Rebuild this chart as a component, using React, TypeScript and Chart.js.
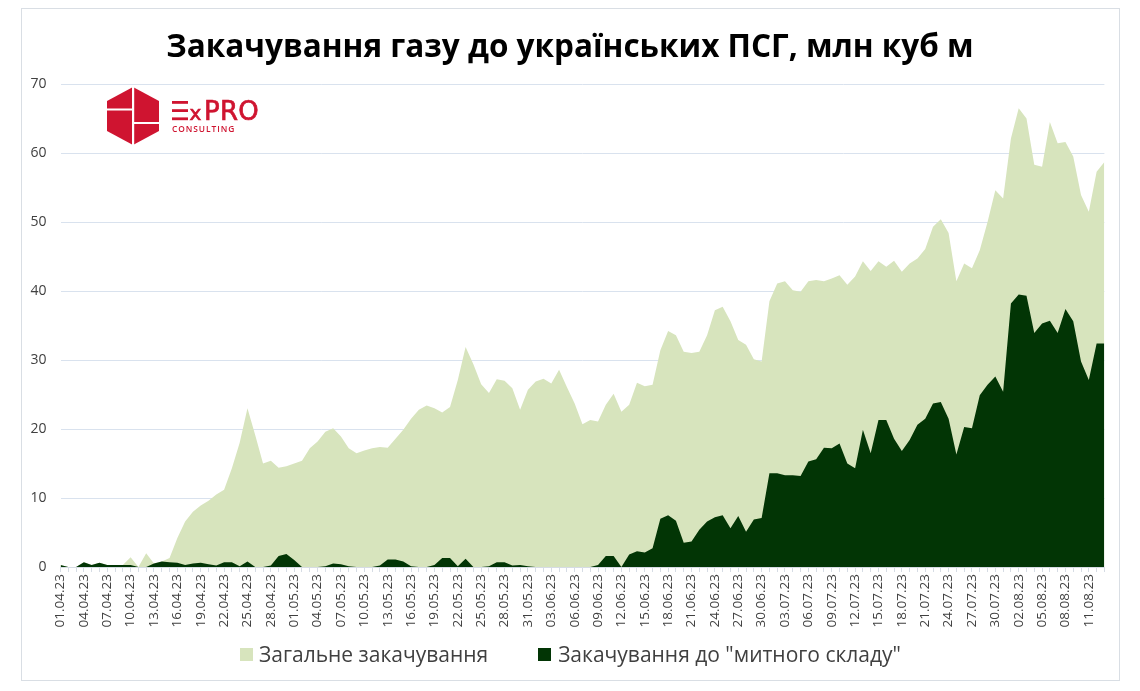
import { useEffect, useRef } from "react";
import { Chart, registerables } from "chart.js";

Chart.register(...registerables);

// first day of the series, one value per day
const START_DAY = { year: 2023, month: 4, day: 1 };

// total injection into Ukrainian UGS, mcm/day
const totalInjection = [
  0.3, 0, 0, 0.7, 0.3, 0.6, 0.3, 0.3, 0.3, 1.4,
  0, 2.0, 0.5, 0.8, 1.3, 4.2, 6.6, 8.0, 8.9, 9.6,
  10.5, 11.2, 14.3, 18.0, 23.0, 19.1, 15.0, 15.4, 14.4, 14.6,
  15.0, 15.4, 17.2, 18.2, 19.6, 20.1, 18.9, 17.2, 16.5, 16.9,
  17.2, 17.4, 17.3, 18.6, 19.9, 21.5, 22.8, 23.4, 23.0, 22.4,
  23.2, 27.1, 31.9, 29.4, 26.5, 25.2, 27.2, 27.0, 25.9, 22.8,
  25.7, 26.9, 27.3, 26.6, 28.6, 26.1, 23.7, 20.7, 21.3, 21.1,
  23.5, 25.1, 22.5, 23.5, 26.7, 26.2, 26.4, 31.4, 34.2, 33.6,
  31.2, 31.0, 31.2, 33.6, 37.2, 37.7, 35.6, 32.9, 32.2, 30.1,
  29.8, 38.5, 41.1, 41.4, 40.1, 39.9, 41.4, 41.6, 41.4, 41.8,
  42.3, 40.9, 42.1, 44.3, 42.9, 44.3, 43.5, 44.4, 42.8, 44.0,
  44.7, 46.1, 49.3, 50.4, 48.4, 41.4, 44.0, 43.3, 45.9, 50.0,
  54.6, 53.4, 62.1, 66.5, 65.0, 58.3, 58.0, 64.5, 61.4, 61.6,
  59.5, 53.9, 51.5, 57.3, 58.7,
];

// injection into the "customs warehouse", mcm/day
const customsInjection = [
  0.3, 0, 0, 0.7, 0.3, 0.6, 0.3, 0.3, 0.3, 0.3,
  0, 0, 0.5, 0.8, 0.7, 0.6, 0.3, 0.5, 0.6, 0.4,
  0.2, 0.7, 0.7, 0.1, 0.8, 0, 0, 0.2, 1.6, 1.9,
  1.0, 0, 0, 0, 0.1, 0.5, 0.4, 0.1, 0, 0,
  0, 0.2, 1.1, 1.1, 0.8, 0.1, 0, 0, 0.3, 1.3,
  1.3, 0.1, 1.2, 0, 0, 0.1, 0.7, 0.7, 0.2, 0.3,
  0.1, 0, 0, 0, 0, 0, 0, 0, 0, 0.3,
  1.6, 1.6, 0, 1.8, 2.3, 2.1, 2.7, 7.0, 7.5, 6.7,
  3.5, 3.7, 5.4, 6.6, 7.2, 7.5, 5.6, 7.4, 5.1, 6.9,
  7.1, 13.6, 13.6, 13.3, 13.3, 13.2, 15.3, 15.6, 17.3, 17.2,
  17.9, 15.0, 14.3, 19.9, 16.5, 21.3, 21.3, 18.6, 16.8, 18.4,
  20.6, 21.5, 23.7, 23.9, 21.5, 16.3, 20.3, 20.1, 24.9, 26.4,
  27.6, 25.4, 38.2, 39.5, 39.3, 33.9, 35.3, 35.7, 33.9, 37.4,
  35.6, 29.8, 27.1, 32.4, 32.4,
];

const seriesNames = ["Загальне закачування", "Закачування до \"митного складу\""];
const yTicks = [0, 10, 20, 30, 40, 50, 60, 70];
const LABEL_EVERY = 3;

const LIGHT = "#D7E4BD";
const DARK = "#023505";
const FONT = "'Open Sans', sans-serif";

function dayLabels(count: number) {
  const out: string[] = [];
  for (let i = 0; i < count; i++) {
    const d = new Date(Date.UTC(START_DAY.year, START_DAY.month - 1, START_DAY.day + i));
    const dd = String(d.getUTCDate()).padStart(2, "0");
    const mm = String(d.getUTCMonth() + 1).padStart(2, "0");
    const yy = String(d.getUTCFullYear()).slice(2);
    out.push(`${dd}.${mm}.${yy}`);
  }
  return out;
}

function Logo() {
  const red = "#CF1430";
  return (
    <svg
      width={180}
      height={70}
      style={{ position: "absolute", left: 100, top: 80 }}
    >
      <polygon points="33,7 59,21 59,51 33,65 7,51 7,21" fill={red} />
      <rect x={32} y={7} width={2.2} height={58} fill="#fff" />
      <rect x={7} y={28.5} width={25} height={2} fill="#fff" />
      <rect x={34} y={42} width={25} height={2} fill="#fff" />
      <rect x={72} y={21} width={16} height={2.8} fill={red} />
      <rect x={72} y={29.2} width={16} height={2.8} fill={red} />
      <rect x={72} y={37.4} width={16} height={2.8} fill={red} />
      <text x={89.5} y={40.2} fill={red} stroke={red} strokeWidth={0.7}
        fontFamily="'DejaVu Sans', sans-serif" fontSize={20}>
        x
      </text>
      <text x={104} y={40.2} fill={red} stroke={red} strokeWidth={0.7}
        fontFamily="'DejaVu Sans', sans-serif" fontSize={26} letterSpacing={0.3}>
        PRO
      </text>
      <text x={72} y={52} fill={red} fontFamily={FONT} fontWeight={600} fontSize={8.4} letterSpacing={0.95}>
        CONSULTING
      </text>
    </svg>
  );
}

export default function App() {
  const chartRef = useRef<HTMLCanvasElement>(null);
  const chartInstance = useRef<Chart | null>(null);

  useEffect(() => {
    if (!chartRef.current) return;
    const ctx = chartRef.current.getContext("2d");
    if (!ctx) return;

    if (chartInstance.current) {
      chartInstance.current.destroy();
    }

    const labels = dayLabels(totalInjection.length);

    chartInstance.current = new Chart(ctx, {
      type: "line",
      data: {
        labels,
        datasets: [
          {
            label: seriesNames[0],
            data: totalInjection,
            backgroundColor: LIGHT,
            borderColor: "rgba(0,0,0,0)",
            borderWidth: 0,
            pointRadius: 0,
            tension: 0,
            fill: "origin",
            order: 1,
          },
          {
            label: seriesNames[1],
            data: customsInjection,
            backgroundColor: DARK,
            borderColor: "rgba(0,0,0,0)",
            borderWidth: 0,
            pointRadius: 0,
            tension: 0,
            fill: "origin",
            order: 0,
          },
        ],
      },
      options: {
        animation: false,
        responsive: true,
        maintainAspectRatio: false,
        layout: {
          padding: { top: 84, left: 20.5, right: 35.6, bottom: 58 },
        },
        plugins: {
          legend: { display: false },
          title: { display: false },
          tooltip: { enabled: false },
        },
        scales: {
          x: {
            ticks: {
              autoSkip: false,
              minRotation: 90,
              maxRotation: 90,
              padding: 2,
              color: "#404040",
              font: { family: FONT, size: 13.5 },
              callback: function (value: any, index: number) {
                return index % LABEL_EVERY === 0 ? labels[index] : "";
              },
            },
            grid: {
              drawOnChartArea: false,
              drawTicks: true,
              tickLength: 5,
              color: "#D6DCE4",
            },
            border: { color: "#D6DCE4" },
            afterFit: (scale: any) => {
              scale.height = 66;
            },
          },
          y: {
            min: yTicks[0],
            max: yTicks[yTicks.length - 1],
            ticks: {
              stepSize: yTicks[1] - yTicks[0],
              padding: 14,
              color: "#404040",
              font: { family: FONT, size: 14 },
            },
            grid: {
              color: "#D9E2EE",
              drawTicks: false,
            },
            border: { display: false },
            afterFit: (scale: any) => {
              scale.width = 40;
            },
          },
        },
      },
    });

    return () => {
      if (chartInstance.current) {
        chartInstance.current.destroy();
        chartInstance.current = null;
      }
    };
  }, []);

  return (
    <div
      style={{
        position: "absolute",
        left: 0,
        top: 0,
        width: 1140,
        height: 691,
        background: "#fff",
        fontFamily: FONT,
      }}
    >
      <div
        style={{
          position: "absolute",
          left: 21,
          top: 8,
          width: 1099,
          height: 673,
          border: "1px solid #D9DEE4",
          boxSizing: "border-box",
        }}
      />
      <div style={{ position: "absolute", left: 0, top: 0, width: 1140, height: 691 }}>
        <canvas ref={chartRef}></canvas>
      </div>
      <div
        style={{
          position: "absolute",
          left: 0,
          top: 24,
          width: 1140,
          textAlign: "center",
          fontSize: 31.5,
          lineHeight: "42px",
          fontWeight: 700,
          color: "#000",
        }}
      >
        Закачування газу до українських ПСГ, млн куб м
      </div>
      <Logo />
      <div
        style={{
          position: "absolute",
          left: 240,
          top: 640,
          height: 28,
          display: "flex",
          alignItems: "center",
          fontSize: 21,
          color: "#404040",
          whiteSpace: "nowrap",
        }}
      >
        <span style={{ width: 13, height: 13, background: LIGHT, display: "inline-block", marginRight: 6 }} />
        <span>{seriesNames[0]}</span>
        <span style={{ width: 13, height: 13, background: DARK, display: "inline-block", marginLeft: 50, marginRight: 7 }} />
        <span>{seriesNames[1]}</span>
      </div>
    </div>
  );
}
